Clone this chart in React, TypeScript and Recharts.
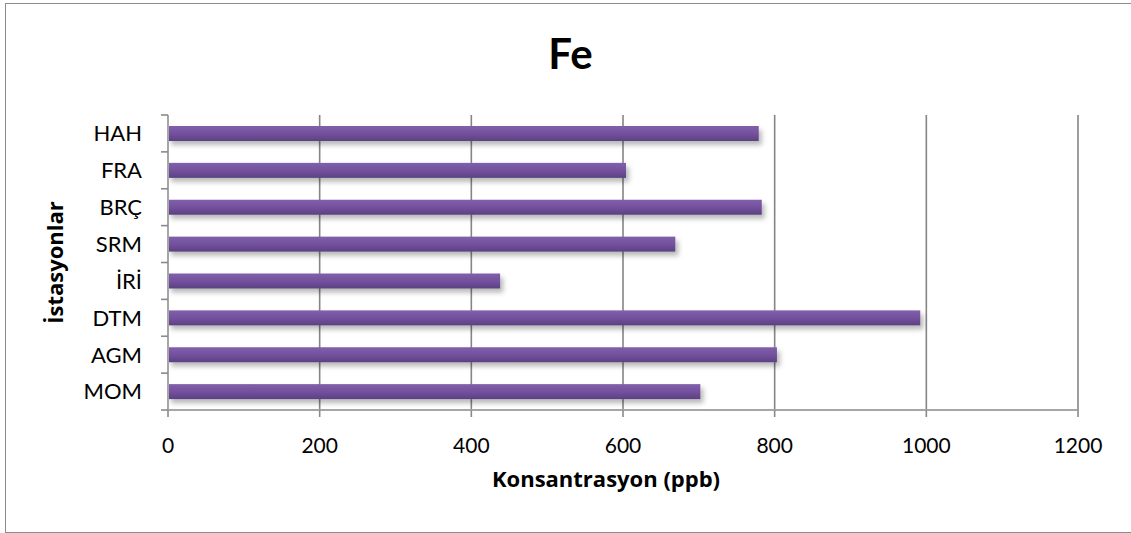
import {
  BarChart,
  Bar,
  XAxis,
  YAxis,
  CartesianGrid,
  Label,
} from "recharts";

// istasyonlar, grafikte yukaridan asagiya
const istasyonlar = ["HAH", "FRA", "BRÇ", "SRM", "İRİ", "DTM", "AGM", "MOM"];
// Fe konsantrasyonu (ppb)
const feDegerleri = [779, 604, 783, 669, 438, 992, 803, 702];
const xTikler = [0, 200, 400, 600, 800, 1000, 1200];

const veri = istasyonlar.map((ad, i) => ({ ad, fe: feDegerleri[i] }));

const FONT = "Lato, 'Liberation Sans', sans-serif";
const BASLIK_FONT = "'Open Sans', Lato, sans-serif";
const Y_TIK_BOSLUK = 26;

function GolgeliCubuk(props: any) {
  const { x, y, width, height } = props;
  if (!width || width <= 0) return null;
  return (
    <rect
      x={x}
      y={y}
      width={width}
      height={height}
      fill="url(#mor)"
      filter="url(#golge)"
    />
  );
}

// Excel gibi: tik cizgileri kategori sinirlarinda, etiket ortada
function IstasyonTik(p: any) {
  const eksenX = p.x + Y_TIK_BOSLUK;
  const yari = p.payload?.offset ?? p.height / p.visibleTicksCount / 2;
  const sonMu = p.index === p.visibleTicksCount - 1;
  return (
    <g>
      <line
        x1={eksenX - 7}
        x2={eksenX}
        y1={p.y - yari}
        y2={p.y - yari}
        stroke="#8a8a8a"
        strokeWidth={1.6}
      />
      {sonMu && (
        <line
          x1={eksenX - 7}
          x2={eksenX}
          y1={p.y + yari}
          y2={p.y + yari}
          stroke="#8a8a8a"
          strokeWidth={1.6}
        />
      )}
      <text
        x={p.x}
        y={p.y}
        dy="0.36em"
        textAnchor="end"
        fontSize={22}
        fontFamily={FONT}
        fill="#000"
      >
        {p.payload.value}
      </text>
    </g>
  );
}

export default function App() {
  return (
    <div
      style={{
        position: "absolute",
        left: 0,
        top: 0,
        width: 1131,
        height: 533,
        background: "#fff",
        fontFamily: FONT,
      }}
    >
      <div
        style={{
          position: "absolute",
          left: 5,
          top: 3,
          width: 1140,
          height: 528,
          border: "1px solid #8c8c8c",
        }}
      />
      <div
        style={{
          position: "absolute",
          left: 5,
          top: 32,
          width: 1131,
          textAlign: "center",
          fontSize: 42,
          lineHeight: "42px",
          fontWeight: 700,
          color: "#000",
        }}
      >
        Fe
      </div>
      <div style={{ position: "absolute", left: 0, top: 0 }}>
        <BarChart
          width={1131}
          height={533}
          data={veri}
          layout="vertical"
          margin={{ top: 115, right: 53, bottom: 43, left: 39 }}
          barSize={15}
        >
          <defs>
            <linearGradient id="mor" x1="0" y1="0" x2="0" y2="1">
              <stop offset="0%" stopColor="#8160ab" />
              <stop offset="55%" stopColor="#724f9c" />
              <stop offset="100%" stopColor="#5b4180" />
            </linearGradient>
            <filter id="golge" x="-5%" y="-60%" width="115%" height="280%">
              <feDropShadow
                dx="3"
                dy="4"
                stdDeviation="2.5"
                floodColor="#000"
                floodOpacity="0.28"
              />
            </filter>
          </defs>
          <CartesianGrid
            horizontal={false}
            stroke="#858585"
            strokeWidth={1.6}
          />
          <XAxis
            type="number"
            domain={[0, 1200]}
            ticks={xTikler}
            interval={0}
            height={80}
            tickSize={7}
            tickMargin={21}
            axisLine={{ stroke: "#a6a6a6", strokeWidth: 2 }}
            tickLine={{ stroke: "#8a8a8a", strokeWidth: 1.6 }}
            tick={{ fill: "#000", fontSize: 21, fontFamily: FONT }}
          >
            <Label
              content={({ viewBox }: any) => (
                <text
                  x={viewBox.x + viewBox.width / 2 - 17}
                  y={viewBox.y + 77}
                  textAnchor="middle"
                  fontSize={22}
                  fontWeight={700}
                  fontFamily={BASLIK_FONT}
                  fill="#000"
                >
                  Konsantrasyon (ppb)
                </text>
              )}
            />
          </XAxis>
          <YAxis
            type="category"
            dataKey="ad"
            width={129}
            interval={0}
            axisLine={{ stroke: "#a6a6a6", strokeWidth: 2 }}
            tickLine={false}
            tickSize={0}
            tickMargin={Y_TIK_BOSLUK}
            tick={IstasyonTik}
          >
            <Label
              content={({ viewBox }: any) => {
                const cx = viewBox.x + 15;
                const cy = viewBox.y + viewBox.height / 2;
                return (
                  <text
                    x={cx}
                    y={cy}
                    transform={`rotate(-90 ${cx} ${cy})`}
                    textAnchor="middle"
                    dominantBaseline="central"
                    fontSize={22}
                    fontWeight={700}
                    fontFamily={BASLIK_FONT}
                    fill="#000"
                  >
                    İstasyonlar
                  </text>
                );
              }}
            />
          </YAxis>
          <Bar
            dataKey="fe"
            shape={GolgeliCubuk}
            isAnimationActive={false}
          />
        </BarChart>
      </div>
    </div>
  );
}
